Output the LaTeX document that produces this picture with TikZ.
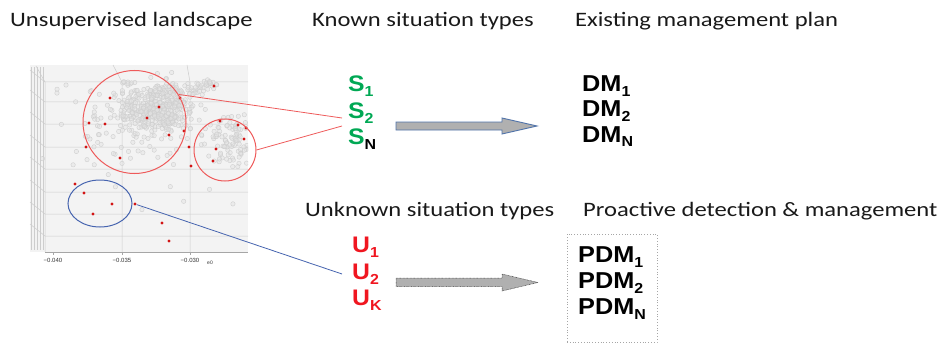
\documentclass[tikz,border=0pt]{standalone}
\usepackage{fontspec}
\setmainfont{Carlito}
\newfontfamily\headfont[FakeStretch=1.2]{Carlito}
\newfontfamily\labelfont[FakeStretch=1.1]{Liberation Sans}
\newfontfamily\tickfont{Liberation Sans}
\usetikzlibrary{shapes.geometric}

\definecolor{sgreen}{RGB}{0,168,84}
\definecolor{ured}{RGB}{240,22,32}
\definecolor{ringred}{RGB}{238,90,90}
\definecolor{ringblue}{RGB}{70,100,175}
\definecolor{arrowedge}{RGB}{80,115,170}
\definecolor{arrowfill}{RGB}{176,176,176}
\definecolor{panefill}{RGB}{243,243,243}
\definecolor{gridcol}{RGB}{205,205,205}
\definecolor{headtext}{RGB}{25,25,25}
\definecolor{dotred}{RGB}{210,20,20}

% lowered index for the bold labels
\newcommand{\lsub}[1]{\raisebox{-5pt}{\fontsize{14.5}{14.5}\selectfont #1}}

\begin{document}
\begin{tikzpicture}[x=1pt,y=-1pt,
  head/.style={anchor=base west, inner sep=0pt, font=\headfont\fontsize{20.5}{24}\selectfont, text=headtext},
  lab/.style={anchor=base west, inner sep=0pt, font=\labelfont\bfseries\fontsize{22.5}{26}\selectfont},
  plan/.style={anchor=base west, inner sep=0pt, font=\labelfont\bfseries\fontsize{23}{26}\selectfont, text=black},
  ring/.style={draw=ringred, line width=1pt, inner sep=0pt},
  cloudpt/.style={draw=gray!38, fill=gray!22, fill opacity=0.45, line width=0.4pt},
  sdot/.style={circle, fill=dotred, inner sep=0pt, minimum size=3.4pt},
  link/.style={line width=0.8pt},
  grid3d/.style={draw=gridcol, line width=0.5pt},
  tick/.style={inner sep=0pt, font=\tickfont\fontsize{6}{7}\selectfont, text=gray!40!black}]

\useasboundingbox (0,0) rectangle (943,345);

% ---------- headings ----------
\node[head] (h1) at (10,27) {Unsupervised landscape};
\node[head] (h2) at (312,27) {Known situation types};
\node[head] (h3) at (575,27) {Existing management plan};
\node[head] (h4) at (305,216) {Unknown situation types};
\node[head] (h5) at (583,216) {Proactive detection \& management};

% ---------- 3D scatter panel ----------
\fill[panefill] (30,65) rectangle (248,252);
\foreach \vx in {31,34,37,40,43}{\draw[grid3d] (\vx,67) -- (\vx,250);}
\foreach \gy in {82,102,124,147,169,192,214,236}{\draw[grid3d] (30,\gy-12) -- (45,\gy) -- (248,\gy);}
\draw[grid3d] (36,66) -- (45,82) -- (45,252);
\draw[grid3d] (113,65) -- (122,82) -- (122,252);
\draw[grid3d] (187,65) -- (190,82) -- (190,252);
\draw[gray!70, line width=0.6pt] (45,252) -- (248,252);
\foreach \tx in {53,122,190}{\draw[gray!70, line width=0.5pt] (\tx,252) -- (\tx,255);}
\node[tick] (t1) at (53,260) {−0.040};
\node[tick] (t2) at (122,260) {−0.035};
\node[tick] (t3) at (190,260) {−0.030};
\node[tick, font=\tickfont\fontsize{5}{6}\selectfont] (t4) at (210,263) {e0};

% gray point cloud
\begin{scope}
\clip (30,65) rectangle (248,252);
\pgfmathsetseed{4177}
\foreach \i in {1,...,380}{
  \pgfmathsetmacro\px{155+18*(rand+rand+rand)}
  \pgfmathsetmacro\py{108+13*(rand+rand+rand)}
  \draw[cloudpt] (\px,\py) circle[radius=2.2pt];
}
\foreach \i in {1,...,110}{
  \pgfmathsetmacro\px{140+36*(rand+rand+rand)}
  \pgfmathsetmacro\py{122+22*(rand+rand+rand)}
  \draw[cloudpt] (\px,\py) circle[radius=2.2pt];
}
\foreach \i in {1,...,60}{
  \pgfmathsetmacro\px{189+29*rand}
  \pgfmathsetmacro\py{92-(\px-160)*0.12+4*(rand+rand)}
  \draw[cloudpt] (\px,\py) circle[radius=2.2pt];
}
\foreach \i in {1,...,90}{
  \pgfmathsetmacro\px{229+11*(rand+rand+rand)}
  \pgfmathsetmacro\py{140+14*(rand+rand+rand)}
  \draw[cloudpt] (\px,\py) circle[radius=2.2pt];
}
\foreach \i in {1,...,30}{
  \pgfmathsetmacro\px{150+95*rand}
  \pgfmathsetmacro\py{150+70*rand}
  \draw[cloudpt] (\px,\py) circle[radius=2.2pt];
}
\end{scope}

% red observations
\foreach \p [count=\k] in {(214,86),(110,98),(159,107),(180,98),(147,118),(89,123),
  (105,124),(184,131),(169,135),(220,121),(238,125),(246,128),(244,139),(86,147),
  (216,149),(189,147),(213,161),(120,158),(191,166),(75,184),(84,193),(112,204),
  (93,214),(162,223),(169,241)}{\node[sdot] (d\k) at \p {};}
\node[sdot] (seed) at (135,204) {};

% groupings
\node[ring, circle, minimum size=103pt] (bigc) at (134.5,122) {};
\node[ring, circle, minimum size=62pt] (rightc) at (225,150) {};
\node[ring, draw=ringblue, ellipse, minimum width=64pt, minimum height=47pt] (bluee) at (100,203.5) {};

% ---------- situation types ----------
\node[lab, text=sgreen] (s1) at (348,92) {S\lsub{1}};
\node[lab, text=sgreen] (s2) at (348,118) {S\lsub{2}};
\node[lab, text=sgreen] (sn) at (348,144) {S\lsub{\color{black}N}};

\node[lab, text=ured] (u1) at (352,252) {U\lsub{1}};
\node[lab, text=ured] (u2) at (352,279) {U\lsub{2}};
\node[lab, text=ured] (uk) at (352,305) {U\lsub{K}};

% ---------- management plans ----------
\node[plan] (dm1) at (582,92) {DM\lsub{1}};
\node[plan] (dm2) at (582,117) {DM\lsub{2}};
\node[plan] (dmn) at (582,142) {DM\lsub{N}};

\node[draw=gray!70, dotted, line width=0.8pt, minimum width=90pt, minimum height=108pt, inner sep=0pt] (pdmbox) at (612,288) {};
\node[plan] (pdm1) at (578,262) {PDM\lsub{1}};
\node[plan] (pdm2) at (578,288) {PDM\lsub{2}};
\node[plan] (pdmn) at (578,314) {PDM\lsub{N}};

% ---------- connectors ----------
\coordinate (s2a) at ([shift={(-6,0)}]s2.base west);
\coordinate (s2b) at ([shift={(-6,8)}]s2.base west);
\coordinate (u2a) at ([shift={(-10,-5)}]u2.base west);
\draw[link, draw=ringred] (bigc.32.8) -- (s2a);
\draw[link, draw=ringred] (rightc.east) -- (s2b);
\draw[link, draw=ringblue] (seed) -- (u2a);

% ---------- block arrows ----------
\draw[arrowedge, line width=0.9pt, fill=arrowfill]
  (396,122) -- (502,122) -- (502,118) -- (537,126) -- (502,134) -- (502,130) -- (396,130) -- cycle;
\draw[gray!50!black, dash pattern=on 0.7pt off 0.7pt, line width=0.5pt, fill=arrowfill]
  (396,278) -- (502,278) -- (502,274) -- (538,282.5) -- (502,291) -- (502,286.5) -- (396,286.5) -- cycle;

\end{tikzpicture}
\end{document}
